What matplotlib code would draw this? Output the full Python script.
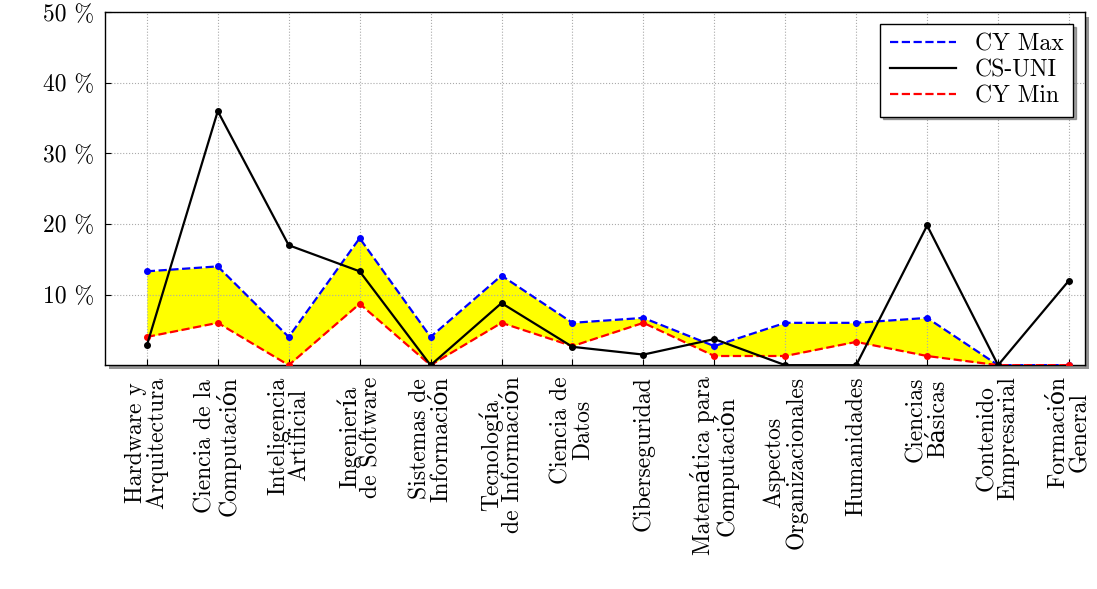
import matplotlib
matplotlib.use('Agg')
import matplotlib.pyplot as plt
import matplotlib.patheffects as pe
from matplotlib.lines import Line2D
import numpy as np

plt.rcParams['font.family'] = ['cmr10', 'DejaVu Serif']
plt.rcParams['axes.formatter.use_mathtext'] = True

categories = ['Hardware y\nArquitectura', 'Ciencia de la\nComputación', 'Inteligencia\nArtificial',
              'Ingeniería\nde Software', 'Sistemas de\nInformación', 'Tecnología\nde Información',
              'Ciencia de\nDatos', 'Ciberseguridad', 'Matemática para\nComputación',
              'Aspectos\nOrganizacionales', 'Humanidades', 'Ciencias\nBásicas',
              'Contenido\nEmpresarial', 'Formación\nGeneral']
cy_max = [13.3, 14, 4, 18, 4, 12.7, 6, 6.7, 2.7, 6, 6, 6.7, 0, 0]
cs_uni = [2.8, 36, 17, 13.3, 0, 8.8, 2.6, 1.5, 3.7, 0, 0, 19.8, 0, 12]
cy_min = [4, 6, 0, 8.7, 0, 6, 2.7, 6, 1.3, 1.3, 3.3, 1.3, 0, 0]

x = np.arange(len(categories))
fig = plt.figure(figsize=(10.97, 5.89), dpi=100)
ax = fig.add_axes([0.0957, 0.380, 0.893, 0.599])

ax.fill_between(x, cy_min, cy_max, color='yellow', lw=0, zorder=1)
ax.plot(x, cy_max, '--', color='blue', lw=1.6, marker='o', ms=4, zorder=3)
ax.plot(x, cs_uni, '-', color='black', lw=1.6, marker='o', ms=4, zorder=4)
ax.plot(x, cy_min, '--', color='red', lw=1.6, marker='o', ms=4, zorder=3)

ax.set_xlim(-0.59, len(x) - 1 + 0.22)
ax.set_ylim(0, 50)
ax.set_yticks([10, 20, 30, 40, 50])
ax.set_yticklabels([f'{v} %' for v in [10, 20, 30, 40, 50]], fontsize=17)
ax.set_xticks(x)
ax.set_xticklabels(categories, rotation=90, fontsize=17, ha='center', multialignment='center',
                   linespacing=0.95)
ax.tick_params(direction='in', length=4, pad=8)
ax.grid(True, linestyle=':', color='#aaaaaa', lw=0.8)
for s in ax.spines.values():
    s.set_linewidth(1.0)
ax.patch.set_path_effects([pe.SimplePatchShadow(offset=(3, -3), alpha=0.6), pe.Normal()])

handles = [Line2D([], [], color='blue', ls='--', lw=1.6),
           Line2D([], [], color='black', ls='-', lw=1.6),
           Line2D([], [], color='red', ls='--', lw=1.6)]
leg = ax.legend(handles, ['CY Max', 'CS-UNI', 'CY Min'], loc='upper right', fontsize=17,
                fancybox=False, shadow=True, edgecolor='black', framealpha=1,
                handlelength=2.8, labelspacing=0.15, borderpad=0.4)
leg.get_frame().set_linewidth(1.0)

fig.savefig('out.png', dpi=100)
